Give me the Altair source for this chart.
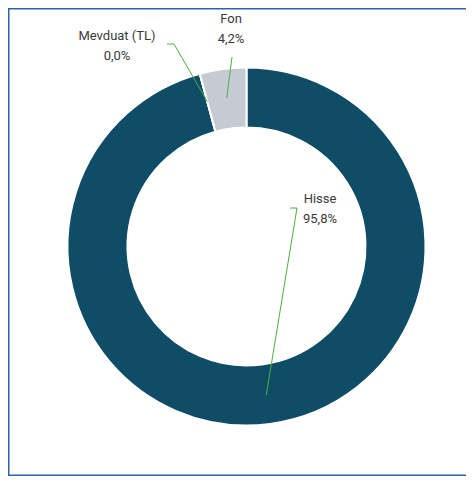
import math
import altair as alt
import pandas as pd

# ---- data ----
categories = ["Hisse", "Mevduat (TL)", "Fon"]
values = [95.8, 0.0, 4.2]
colors = ["#0f4c66", "#1f6f8f", "#c4cbd2"]

# ---- layout (chart coordinates) ----
W, H = 458, 468
CX, CY = 238.5, 238.5
R_OUT, R_IN = 179, 119
R_LEADER = 150
# label anchor (dx, dy of first line centre) and leader start / elbow, relative to centre
LABEL_POS = {
    "Hisse": (73.5, -47.5),
    "Mevduat (TL)": (-129.5, -210.5),
    "Fon": (-15.5, -227.5),
}
LEADER_START = {
    "Hisse": ((43.5, -38.5), (50.5, -38.5)),
    "Mevduat (TL)": ((-79.5, -202.5), (-72.5, -202.5)),
    "Fon": ((-14.5, -189.5), (-14.5, -189.5)),
}
LINE_GAP = 19.5

def fmt(v):
    return f"{v:.1f}".replace(".", ",") + "%"

df = pd.DataFrame({"cat": categories, "value": values, "ord": list(range(len(categories)))})

total = sum(values)
cum = 0.0
line_rows, text_rows = [], []
for c, v in zip(categories, values):
    frac = (cum + v / 2) / total
    cum += v
    a = 2 * math.pi * frac
    px, py = CX + R_LEADER * math.sin(a), CY - R_LEADER * math.cos(a)
    (sx, sy), (ex, ey) = LEADER_START[c]
    pts = [(CX + sx, CY + sy), (CX + ex, CY + ey), (px, py)]
    for i, (x, y) in enumerate(pts):
        line_rows.append({"cat": c, "seq": i, "x": x, "y": y})
    lx, ly = LABEL_POS[c]
    text_rows.append({"cat": c, "txt": c, "x": CX + lx, "y": CY + ly})
    text_rows.append({"cat": c, "txt": fmt(v), "x": CX + lx, "y": CY + ly + LINE_GAP})

lines_df = pd.DataFrame(line_rows)
text_df = pd.DataFrame(text_rows)
frame_df = pd.DataFrame({"k": [0]})

xs = alt.Scale(domain=[0, W], range=[0, W], nice=False, zero=False)
ys = alt.Scale(domain=[0, H], range=[0, H], nice=False, zero=False)

arcs = alt.Chart(df).mark_arc(
    innerRadius=R_IN, outerRadius=R_OUT, stroke="white", strokeWidth=2
).encode(
    theta=alt.Theta("value:Q", stack=True),
    color=alt.Color("cat:N", scale=alt.Scale(domain=categories, range=colors), legend=None),
    order=alt.Order("ord:Q"),
    x=alt.value(CX),
    y=alt.value(CY),
)

leaders = alt.Chart(lines_df).mark_line(color="#4db043", strokeWidth=1).encode(
    x=alt.X("x:Q", scale=xs, axis=None),
    y=alt.Y("y:Q", scale=ys, axis=None),
    detail="cat:N",
    order="seq:Q",
)

labels = alt.Chart(text_df).mark_text(
    font="Roboto", fontSize=13, color="#3a3a3a", align="center", baseline="middle"
).encode(
    x=alt.X("x:Q", scale=xs, axis=None),
    y=alt.Y("y:Q", scale=ys, axis=None),
    text="txt:N",
)

# frame: open on the right (its right edge lies outside the visible area)
frame = alt.Chart(frame_df).mark_rect(
    fill="transparent", stroke="#2b65a8", strokeWidth=1.5
).encode(
    x=alt.value(0.75), x2=alt.value(W + 30), y=alt.value(0.75), y2=alt.value(H - 0.75)
)

chart = alt.layer(arcs, leaders, labels, frame).properties(
    width=W, height=H, padding=0, autosize="none"
).configure_view(stroke="transparent", strokeWidth=0)

chart.save("out.html", embed_options={"renderer": "svg", "actions": False})
